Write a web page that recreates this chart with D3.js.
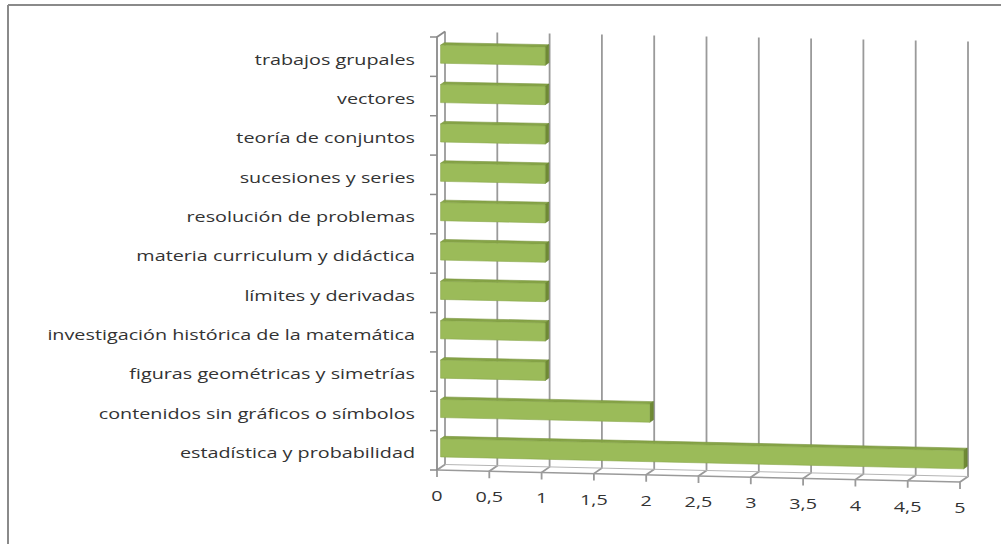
<!DOCTYPE html>
<html><head><meta charset="utf-8">
<script src="https://cdn.jsdelivr.net/npm/d3@7"></script>
<style>html,body{margin:0;padding:0;background:#fff;}svg{display:block;}</style>
</head><body>
<svg id="c" width="1001" height="544"></svg>
<script>
const categories = ["trabajos grupales","vectores ","teoría de conjuntos","sucesiones y series","resolución de problemas","materia curriculum y didáctica","límites y derivadas","investigación histórica de la matemática","figuras geométricas y simetrías","contenidos sin gráficos o símbolos","estadística y probabilidad"];
const values = [1,1,1,1,1,1,1,1,1,2,5];
const tickValues = [0,0.5,1,1.5,2,2.5,3,3.5,4,4.5,5];
const tickLabels = ["0","0,5","1","1,5","2","2,5","3","3,5","4","4,5","5"];

const svg = d3.select("#c");
const FONT = "'Open Sans', 'Noto Sans', sans-serif";

// frame
svg.append("path").attr("d","M8,5 H1001 M8,5 V544").attr("fill","none").attr("stroke","#8a8a8a").attr("stroke-width",2);

const x = d3.scaleLinear().domain([0,5]).range([437,960]);
const band = d3.scaleBand().domain(categories).range([0,11]).paddingInner(0.54).paddingOuter(0.27);
const catPos = d3.scaleLinear().domain([0,11]).range([0,1]);
function P(v,c,z){
  const t = catPos(c);
  const yTop = 37 + v*2.0, yBot = 470 + v*2.4;
  const y = yTop + t*(yBot-yTop);
  return [x(v) + z*8, y - z*5.5];
}
const line = d3.line();

const g = svg.append("g");
tickValues.forEach((v,i)=>{
  const a = P(v,0,1), b = P(v,11,1), f = P(v,11,0);
  g.append("path").attr("d", line([a,b,f,[f[0],f[1]+7]]))
    .attr("fill","none").attr("stroke","#9a9a9a").attr("stroke-width",1.8);
});
g.append("path").attr("d", line([P(0,11,0),P(5,11,0)])).attr("fill","none").attr("stroke","#9a9a9a").attr("stroke-width",1.5);
g.append("path").attr("d", line([P(0,11,1),P(5,11,1)])).attr("fill","none").attr("stroke","#b5b5b5").attr("stroke-width",1);
g.append("path").attr("d", line([P(0,0,1),P(0,0,0),P(0,11,0)])).attr("fill","none").attr("stroke","#8a8a8a").attr("stroke-width",1.8);
for(let k=0;k<=11;k++){
  const p = P(0,k,0);
  g.append("path").attr("d", line([p,[p[0]-7,p[1]]])).attr("fill","none").attr("stroke","#8a8a8a").attr("stroke-width",1.5);
}

const bars = svg.append("g");
categories.forEach((cat,i)=>{
  const v = values[i];
  const c0 = band(cat), c1 = c0 + band.bandwidth();
  const zf = 0.45, zb = 0.9;
  const fTL = P(0,c0,zf), fTR = P(v,c0,zf), fBR = P(v,c1,zf), fBL = P(0,c1,zf);
  const bTL = P(0,c0,zb), bTR = P(v,c0,zb), bBR = P(v,c1,zb);
  bars.append("path").attr("d", line([fTL,fTR,bTR,bTL])+"Z").attr("fill","#86a447").attr("stroke","#7a9640").attr("stroke-width",0.6);
  bars.append("path").attr("d", line([fTR,bTR,bBR,fBR])+"Z").attr("fill","#6f8a35").attr("stroke","#5f7a2c").attr("stroke-width",0.6);
  bars.append("path").attr("d", line([fTL,fTR,fBR,fBL])+"Z").attr("fill","#9bbb59").attr("stroke","#8aa84c").attr("stroke-width",0.6);
});

const labG = svg.append("g");
const labs = labG.selectAll("text").data(categories).enter().append("text")
  .text(d=>d)
  .attr("font-family",FONT).attr("font-size",14.5).attr("fill","#333")
  .attr("text-anchor","end").attr("dominant-baseline","central");
let maxW = 0;
labs.each(function(){ maxW = Math.max(maxW, this.getComputedTextLength()); });
const sx = 368/maxW;
labs.attr("transform", d=>{
  const c = band(d)+band.bandwidth()/2;
  const p = P(0,c,0);
  return `translate(415,${p[1]+2}) scale(${sx},1)`;
});

svg.append("g").selectAll("text").data(tickValues).enter().append("text")
  .text((d,i)=>tickLabels[i])
  .attr("x", d=>P(d,11,0)[0]).attr("y", d=>P(d,11,0)[1]+31)
  .attr("font-family",FONT).attr("font-size",14.5).attr("fill","#333")
  .attr("text-anchor","middle").attr("transform-origin", d=>`${P(d,11,0)[0]}px 0px`)
  .attr("transform", `scale(${sx},1)`);
</script>
</body></html>
